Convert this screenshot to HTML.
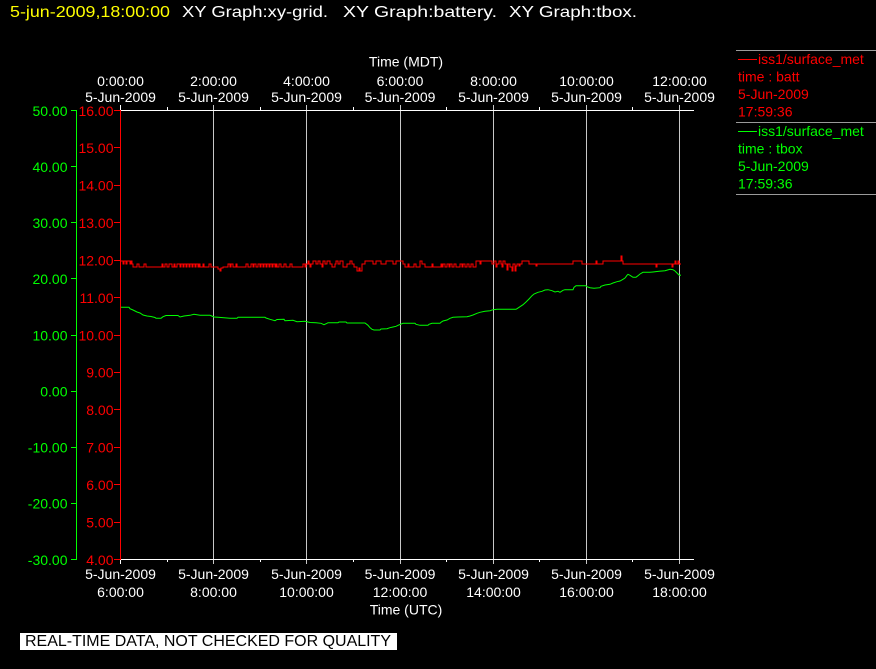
<!DOCTYPE html>
<html><head><meta charset="utf-8"><style>
html,body{margin:0;padding:0;background:#000;width:876px;height:669px;overflow:hidden}
svg{display:block}
text{font-family:"Liberation Sans",sans-serif;font-size:14px}
</style></head><body>
<svg width="876" height="669" viewBox="0 0 876 669" xmlns="http://www.w3.org/2000/svg">
<rect width="876" height="669" fill="#000"/>
<!-- Title -->
<text x="10" y="17" fill="#ffff00" style="font-size:16px" textLength="160" lengthAdjust="spacingAndGlyphs">5-jun-2009,18:00:00</text>
<text x="182" y="17" fill="#fff" style="font-size:16px" textLength="146" lengthAdjust="spacingAndGlyphs">XY Graph:xy-grid.</text>
<text x="343" y="17" fill="#fff" style="font-size:16px" textLength="154" lengthAdjust="spacingAndGlyphs">XY Graph:battery.</text>
<text x="509" y="17" fill="#fff" style="font-size:16px" textLength="128" lengthAdjust="spacingAndGlyphs">XY Graph:tbox.</text>

<g shape-rendering="crispEdges" stroke-width="1" fill="none">
<!-- grid lines -->
<g stroke="#c8c8c8">
<line x1="213.5" y1="105" x2="213.5" y2="564"/>
<line x1="306.5" y1="105" x2="306.5" y2="564"/>
<line x1="400.5" y1="105" x2="400.5" y2="564"/>
<line x1="493.5" y1="105" x2="493.5" y2="564"/>
<line x1="586.5" y1="105" x2="586.5" y2="564"/>
<line x1="679.5" y1="105" x2="679.5" y2="564"/>
</g>
<!-- top & bottom axes -->
<g stroke="#fff">
<line x1="121" y1="110.5" x2="694" y2="110.5"/>
<line x1="121" y1="559.5" x2="694" y2="559.5"/>
<line x1="120.5" y1="105" x2="120.5" y2="110"/>
<line x1="120.5" y1="560" x2="120.5" y2="564"/>
<line x1="167.5" y1="107" x2="167.5" y2="110"/>
<line x1="260.5" y1="107" x2="260.5" y2="110"/>
<line x1="353.5" y1="107" x2="353.5" y2="110"/>
<line x1="446.5" y1="107" x2="446.5" y2="110"/>
<line x1="539.5" y1="107" x2="539.5" y2="110"/>
<line x1="632.5" y1="107" x2="632.5" y2="110"/>
<line x1="167.5" y1="560" x2="167.5" y2="562"/>
<line x1="260.5" y1="560" x2="260.5" y2="562"/>
<line x1="353.5" y1="560" x2="353.5" y2="562"/>
<line x1="446.5" y1="560" x2="446.5" y2="562"/>
<line x1="539.5" y1="560" x2="539.5" y2="562"/>
<line x1="632.5" y1="560" x2="632.5" y2="562"/>
</g>
<!-- red axis -->
<g stroke="#ff0000">
<line x1="120.5" y1="110" x2="120.5" y2="560"/>
<line x1="114" y1="110.5" x2="120" y2="110.5"/>
<line x1="114" y1="147.5" x2="120" y2="147.5"/>
<line x1="114" y1="185.5" x2="120" y2="185.5"/>
<line x1="114" y1="222.5" x2="120" y2="222.5"/>
<line x1="114" y1="260.5" x2="120" y2="260.5"/>
<line x1="114" y1="297.5" x2="120" y2="297.5"/>
<line x1="114" y1="335.5" x2="120" y2="335.5"/>
<line x1="114" y1="372.5" x2="120" y2="372.5"/>
<line x1="114" y1="409.5" x2="120" y2="409.5"/>
<line x1="114" y1="447.5" x2="120" y2="447.5"/>
<line x1="114" y1="484.5" x2="120" y2="484.5"/>
<line x1="114" y1="522.5" x2="120" y2="522.5"/>
<line x1="114" y1="559.5" x2="120" y2="559.5"/>
</g>
<!-- green axis -->
<g stroke="#00ff00">
<line x1="76.5" y1="110" x2="76.5" y2="560"/>
<line x1="71" y1="110.5" x2="77" y2="110.5"/>
<line x1="71" y1="166.5" x2="77" y2="166.5"/>
<line x1="71" y1="222.5" x2="77" y2="222.5"/>
<line x1="71" y1="278.5" x2="77" y2="278.5"/>
<line x1="71" y1="335.5" x2="77" y2="335.5"/>
<line x1="71" y1="391.5" x2="77" y2="391.5"/>
<line x1="71" y1="447.5" x2="77" y2="447.5"/>
<line x1="71" y1="503.5" x2="77" y2="503.5"/>
<line x1="71" y1="559.5" x2="77" y2="559.5"/>
</g>
<!-- legend separators -->
<g stroke="#9a9a9a">
<line x1="736" y1="50.5" x2="876" y2="50.5"/>
<line x1="736" y1="122.5" x2="876" y2="122.5"/>
<line x1="736" y1="194.5" x2="876" y2="194.5"/>
</g>
<line x1="738" y1="59.5" x2="757" y2="59.5" stroke="#ff0000"/>
<line x1="738" y1="131.5" x2="757" y2="131.5" stroke="#00ff00"/>

<!-- data -->
<path stroke="#ff0000" d="M121 261 H123 V264 H124 V261 H126 V264 H127 V261 H130 V264 H131 V261 H132 V264 H133 V267 H137 V264 H139 V267 H144 V264 H146 V267 H162 V264 H163 V267 H165 V264 H167 V267 H169 V264 H172 V267 H174 V264 H175 V267 H177 V264 H180 V267 H181 V264 H183 V267 H184 V264 H186 V267 H187 V264 H189 V267 H190 V264 H192 V267 H193 V264 H195 V267 H196 V264 H198 V267 H199 V264 H200 V267 H203 V264 H204 V267 H209 V264 H211 V267 H218 V269 H220 V271 H221 V268 H223 V267 H228 V264 H230 V267 H231 V264 H233 V267 H236 V264 H237 V267 H246 V264 H248 V267 H251 V264 H253 V267 H254 V264 H256 V267 H258 V264 H260 V267 H261 V264 H263 V267 H264 V264 H266 V267 H267 V264 H269 V267 H270 V264 H272 V267 H273 V264 H275 V267 H276 V264 H277 V267 H279 V264 H281 V267 H284 V264 H286 V267 H290 V264 H292 V267 H303 V264 H305 V267 H306 V264 H308 V261 H309 V264 H310 V267 H311 V264 H313 V261 H316 V264 H318 V261 H320 V264 H322 V267 H323 V261 H325 V264 H327 V261 H330 V264 H332 V267 H335 V264 H336 V261 H338 V264 H340 V261 H343 V267 H347 V264 H350 V261 H352 V264 H354 V267 H357 V271 H359 V268 H360 V271 H362 V264 H365 V261 H373 V264 H376 V261 H381 V264 H386 V261 H393 V264 H396 V261 H400 V261 H403 V264 H405 V267 H408 V264 H409 V267 H414 V264 H416 V267 H420 V261 H422 V264 H425 V267 H432 V264 H433 V267 H441 V264 H442 V267 H443 V264 H445 V267 H447 V264 H449 V267 H450 V264 H452 V267 H454 V264 H456 V267 H460 V264 H462 V267 H463 V264 H465 V267 H467 V264 H469 V267 H471 V264 H473 V267 H476 V261 H480 V264 H481 V261 H492 V264 H494 V261 H496 V267 H497 V264 H499 V261 H501 V264 H502 V267 H503 V261 H505 V264 H507 V270 H508 V264 H510 V267 H512 V271 H513 V264 H515 V271 H516 V266 H517 V264 H519 V266 H520 V264 H522 V261 H529 V264 H536 V266 H537 V264 H573 V261 H582 V264 H596 V261 H597 V264 H603 V261 H621 V256 H622 V261 H623 V264 H656 V267 H657 V264 H672 V267 H673 V264 H675 V261 H676 V264 H678 V261 H679 V264 H681"/>
</g>
<polyline fill="none" stroke="#00ff00" stroke-width="1" points="121,307.3 129,307.3 130,308.7 133,310 137,312 140,313 143,315 147,316 151,316.5 155,317.5 156,318.3 161,318.3 163,316.7 166,315.5 178,315.5 180,317 184,316 190,315.3 194,314.3 200,315.3 210,315.3 214,317 218,317.3 230,318.3 237,318.3 238,317.3 265,317.3 266,318 270,319.3 275,320.7 277,319.5 284,319.3 285,320.7 293,320.3 297,321.7 305,321.3 308,322 310,322.5 316,322.7 321,323.3 324,324.7 327,323.3 328,322.7 338,322.7 339,322 346,322 347,323 365,323 368,325.3 370,327.7 372,329.3 374,330 380,330 381,329 387,328.7 390,327.7 393,327 396,326.3 398,325.3 403,323.3 415,323.3 416,324.3 420,325.3 428,325.3 429,324.3 432,323.3 440,323.3 441,322.3 443,321 447,320 450,318.3 453,317.3 458,317 467,316.7 470,316 473,315 477,313.3 480,312.3 485,311.3 490,310.7 493,309.7 497,309.3 516,309.3 517,308.7 520,306.7 523,304.7 526,302 529,299 532,295.7 534,294 538,292.3 542,291.3 545,290 548,289.7 552,290.7 555,292 558,291.3 560,292.3 563,290.3 565,289.7 573,289.7 574,287.3 576,285.7 586,285.7 587,286.7 590,287.7 594,288.3 600,287.7 601,286.3 605,285 610,284.3 613,283 617,281.7 620,281 623,279.3 625,278 626,276.7 627,275.3 628,274.3 630,275.3 633,277.3 636,277.3 638,275.7 640,274 643,272.3 650,272.3 653,272 659,271.3 665,270.7 670,269.3 673,269.7 675,271 677,273 679,275 681,275.3"/>

<!-- top axis labels -->
<g fill="#fff" text-anchor="middle">
<text x="406" y="66.5">Time (MDT)</text>
<text x="120.5" y="86">0:00:00</text>
<text x="213.5" y="86">2:00:00</text>
<text x="306.5" y="86">4:00:00</text>
<text x="400" y="86">6:00:00</text>
<text x="493.5" y="86">8:00:00</text>
<text x="586.5" y="86">10:00:00</text>
<text x="679.5" y="86">12:00:00</text>
<text x="120.5" y="102">5-Jun-2009</text>
<text x="213.5" y="102">5-Jun-2009</text>
<text x="306.5" y="102">5-Jun-2009</text>
<text x="400" y="102">5-Jun-2009</text>
<text x="493.5" y="102">5-Jun-2009</text>
<text x="586.5" y="102">5-Jun-2009</text>
<text x="679.5" y="102">5-Jun-2009</text>
<!-- bottom -->
<text x="120.5" y="579">5-Jun-2009</text>
<text x="213.5" y="579">5-Jun-2009</text>
<text x="306.5" y="579">5-Jun-2009</text>
<text x="400" y="579">5-Jun-2009</text>
<text x="493.5" y="579">5-Jun-2009</text>
<text x="586.5" y="579">5-Jun-2009</text>
<text x="679.5" y="579">5-Jun-2009</text>
<text x="120.5" y="597">6:00:00</text>
<text x="213.5" y="597">8:00:00</text>
<text x="306.5" y="597">10:00:00</text>
<text x="400" y="597">12:00:00</text>
<text x="493.5" y="597">14:00:00</text>
<text x="586.5" y="597">16:00:00</text>
<text x="679.5" y="597">18:00:00</text>
<text x="406" y="614.5">Time (UTC)</text>
</g>

<!-- red y labels -->
<g fill="#ff0000" text-anchor="end">
<text x="113.5" y="115.8">16.00</text>
<text x="113.5" y="153.2">15.00</text>
<text x="113.5" y="190.6">14.00</text>
<text x="113.5" y="228">13.00</text>
<text x="113.5" y="265.5">12.00</text>
<text x="113.5" y="302.9">11.00</text>
<text x="113.5" y="340.3">10.00</text>
<text x="113.5" y="377.7">9.00</text>
<text x="113.5" y="415.1">8.00</text>
<text x="113.5" y="452.6">7.00</text>
<text x="113.5" y="490">6.00</text>
<text x="113.5" y="527.4">5.00</text>
<text x="113.5" y="564.8">4.00</text>
</g>
<!-- green y labels -->
<g fill="#00ff00" text-anchor="end">
<text x="67.5" y="115.8">50.00</text>
<text x="67.5" y="171.9">40.00</text>
<text x="67.5" y="228">30.00</text>
<text x="67.5" y="284.2">20.00</text>
<text x="67.5" y="340.3">10.00</text>
<text x="67.5" y="396.4">0.00</text>
<text x="67.5" y="452.6">-10.00</text>
<text x="67.5" y="508.7">-20.00</text>
<text x="67.5" y="564.8">-30.00</text>
</g>

<!-- legend -->
<g fill="#ff0000">
<text x="758" y="64">iss1/surface_met</text>
<text x="738" y="81.5">time : batt</text>
<text x="738" y="99">5-Jun-2009</text>
<text x="738" y="116.7">17:59:36</text>
</g>
<g fill="#00ff00">
<text x="758" y="136">iss1/surface_met</text>
<text x="738" y="153.5">time : tbox</text>
<text x="738" y="171">5-Jun-2009</text>
<text x="738" y="188.7">17:59:36</text>
</g>

<!-- footer -->
<rect x="20" y="633" width="377" height="17" fill="#fff"/>
<text x="25" y="646" fill="#000" style="font-size:15.5px" textLength="366" lengthAdjust="spacingAndGlyphs">REAL-TIME DATA, NOT CHECKED FOR QUALITY</text>
</svg>
</body></html>
